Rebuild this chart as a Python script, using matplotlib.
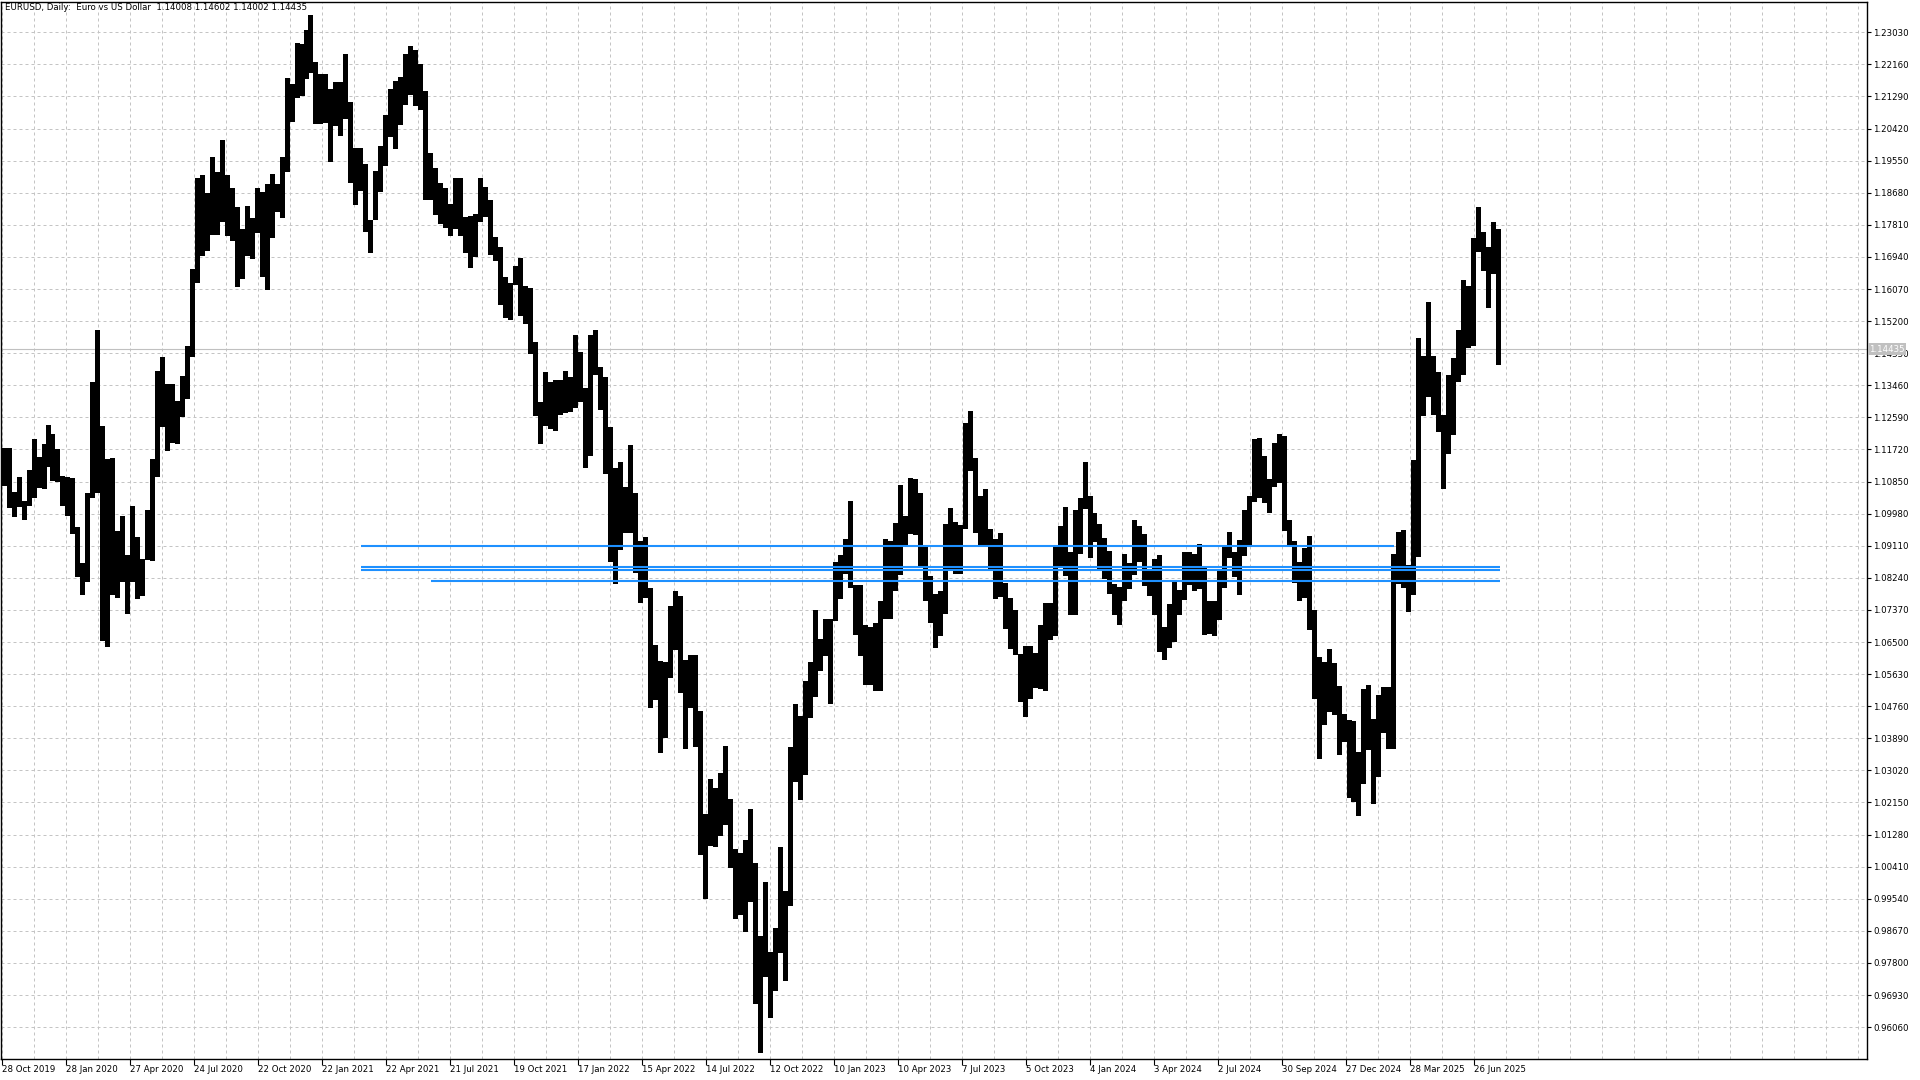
import numpy as np
import pandas as pd
import matplotlib
matplotlib.use("Agg")
import matplotlib.pyplot as plt
import matplotlib.transforms as mtransforms
from matplotlib import font_manager

# ---------------- data ----------------
title = "EURUSD, Daily:  Euro vs US Dollar  1.14008 1.14602 1.14002 1.14435"
first_week = "2019-10-28"
last_week = "2025-07-28"
holidays = ["2019-12-25", "2020-01-01", "2020-12-25", "2021-01-01", "2024-01-01", "2025-01-01"]

high19 = [1.1175, 1.1176, 1.1056, 1.1097, 1.1031, 1.1117, 1.1200, 1.1152, 1.1188, 1.1239]
low19 = [1.1072, 1.1014, 1.0989, 1.1015, 1.0981, 1.1020, 1.1040, 1.1067, 1.1065, 1.1125]

high20 = [1.1214, 1.1173, 1.1100, 1.1096, 1.1095, 1.0963, 1.0864, 1.1053, 1.1355, 1.1496,
          1.1236, 1.1147, 1.1148, 1.0952, 1.0991, 1.0887, 1.1019, 1.0934, 1.0875, 1.1009,
          1.1147, 1.1384, 1.1422, 1.1349, 1.1349, 1.1303, 1.1371, 1.1452, 1.1660, 1.1909,
          1.1916, 1.1866, 1.1966, 1.1923, 1.2011, 1.1917, 1.1882, 1.1830, 1.1770, 1.1831,
          1.1800, 1.1881, 1.1870, 1.1891, 1.1920, 1.1892, 1.1965, 1.2178, 1.2164, 1.2273,
          1.2272, 1.2310]
low20 = [1.1086, 1.1085, 1.1019, 1.0992, 1.0944, 1.0827, 1.0778, 1.0812, 1.1040, 1.1055,
         1.0654, 1.0636, 1.0778, 1.0768, 1.0812, 1.0727, 1.0812, 1.0767, 1.0774, 1.0871,
         1.0870, 1.1097, 1.1232, 1.1168, 1.1190, 1.1186, 1.1260, 1.1308, 1.1422, 1.1624,
         1.1696, 1.1711, 1.1754, 1.1753, 1.1789, 1.1752, 1.1737, 1.1612, 1.1633, 1.1696,
         1.1689, 1.1760, 1.1640, 1.1603, 1.1745, 1.1816, 1.1800, 1.1924, 1.2059, 1.2124,
         1.2130, 1.2177]

high21 = [1.2349, 1.2222, 1.2190, 1.2189, 1.2150, 1.2169, 1.2169, 1.2243, 1.2114, 1.1990,
          1.1990, 1.1945, 1.1795, 1.1927, 1.1994, 1.2080, 1.2150, 1.2172, 1.2181, 1.2245,
          1.2266, 1.2254, 1.2218, 1.2144, 1.1975, 1.1935, 1.1895, 1.1880, 1.1837, 1.1909,
          1.1908, 1.1803, 1.1806, 1.1810, 1.1909, 1.1884, 1.1847, 1.1749, 1.1720, 1.1640,
          1.1624, 1.1669, 1.1692, 1.1616, 1.1609, 1.1464, 1.1300, 1.1383, 1.1355, 1.1361,
          1.1360, 1.1386]
low21 = [1.2193, 1.2054, 1.2053, 1.2057, 1.1952, 1.2049, 1.2023, 1.2067, 1.1894, 1.1836,
         1.1874, 1.1762, 1.1704, 1.1793, 1.1870, 1.1940, 1.2018, 1.1986, 1.2052, 1.2105,
         1.2133, 1.2104, 1.2093, 1.1847, 1.1848, 1.1807, 1.1782, 1.1772, 1.1752, 1.1770,
         1.1752, 1.1705, 1.1664, 1.1695, 1.1790, 1.1802, 1.1700, 1.1684, 1.1563, 1.1529,
         1.1524, 1.1618, 1.1535, 1.1513, 1.1432, 1.1264, 1.1186, 1.1235, 1.1228, 1.1222,
         1.1265, 1.1272]

high22 = [1.1369, 1.1482, 1.1436, 1.1339, 1.1483, 1.1495, 1.1395, 1.1368, 1.1234, 1.1121,
          1.1137, 1.1069, 1.1185, 1.1054, 1.0925, 1.0936, 1.0796, 1.0642, 1.0599, 1.0596,
          1.0748, 1.0787, 1.0774, 1.0601, 1.0614, 1.0615, 1.0463, 1.0185, 1.0278, 1.0254,
          1.0294, 1.0368, 1.0225, 1.0090, 1.0079, 1.0113, 1.0198, 1.0051, 0.9852, 0.9999,
          0.9809, 0.9874, 1.0094, 0.9976, 1.0364, 1.0481, 1.0449, 1.0545, 1.0595, 1.0736,
          1.0658, 1.0713]
low22 = [1.1273, 1.1285, 1.1300, 1.1121, 1.1154, 1.1374, 1.1280, 1.1106, 1.0868, 1.0806,
         1.0900, 1.0945, 1.0945, 1.0837, 1.0757, 1.0770, 1.0471, 1.0493, 1.0350, 1.0389,
         1.0553, 1.0627, 1.0511, 1.0359, 1.0470, 1.0366, 1.0072, 0.9952, 1.0097, 1.0095,
         1.0123, 1.0155, 1.0036, 0.9899, 0.9910, 0.9864, 0.9944, 0.9668, 0.9536, 0.9741,
         0.9632, 0.9705, 0.9807, 0.9730, 0.9935, 1.0271, 1.0223, 1.0290, 1.0443, 1.0500,
         1.0572, 1.0612]

high23 = [1.0713, 1.0867, 1.0887, 1.0929, 1.1033, 1.0804, 1.0804, 1.0695, 1.0691, 1.0701,
          1.0760, 1.0930, 1.0925, 1.0973, 1.1075, 1.0991, 1.1095, 1.1092, 1.1055, 1.0907,
          1.0829, 1.0781, 1.0789, 1.0971, 1.1012, 1.0976, 1.0968, 1.1245, 1.1276, 1.1149,
          1.1045, 1.1064, 1.0956, 1.0930, 1.0945, 1.0809, 1.0769, 1.0737, 1.0618, 1.0639,
          1.0640, 1.0620, 1.0695, 1.0756, 1.0756, 1.0914, 1.0965, 1.1017, 1.0894, 1.1009,
          1.1040, 1.1139]
low23 = [1.0483, 1.0708, 1.0766, 1.0835, 1.0797, 1.0669, 1.0613, 1.0533, 1.0533, 1.0516,
         1.0516, 1.0713, 1.0713, 1.0788, 1.0831, 1.0910, 1.0942, 1.0941, 1.0850, 1.0760,
         1.0702, 1.0635, 1.0667, 1.0727, 1.0844, 1.0834, 1.0834, 1.0956, 1.1114, 1.0945,
         1.0912, 1.0912, 1.0845, 1.0766, 1.0771, 1.0686, 1.0632, 1.0616, 1.0488, 1.0448,
         1.0495, 1.0524, 1.0522, 1.0516, 1.0656, 1.0666, 1.0853, 1.0828, 1.0724, 1.0723,
         1.0888, 1.1011]

high24 = [1.1046, 1.1000, 1.0970, 1.0933, 1.0898, 1.0807, 1.0800, 1.0888, 1.0865, 1.0981,
          1.0964, 1.0942, 1.0843, 1.0876, 1.0885, 1.0690, 1.0753, 1.0812, 1.0791, 1.0895,
          1.0895, 1.0889, 1.0916, 1.0852, 1.0761, 1.0762, 1.0844, 1.0907, 1.0948, 1.0895,
          1.0926, 1.1009, 1.1047, 1.1201, 1.1202, 1.1155, 1.1092, 1.1189, 1.1214, 1.1209,
          1.0982, 1.0925, 1.0868, 1.0905, 1.0937, 1.0737, 1.0610, 1.0597, 1.0630, 1.0594,
          1.0532, 1.0455, 1.0438]
low24 = [1.0877, 1.0920, 1.0844, 1.0821, 1.0779, 1.0722, 1.0695, 1.0761, 1.0795, 1.0833,
         1.0868, 1.0802, 1.0776, 1.0724, 1.0622, 1.0601, 1.0634, 1.0650, 1.0724, 1.0765,
         1.0805, 1.0788, 1.0795, 1.0668, 1.0671, 1.0666, 1.0710, 1.0797, 1.0877, 1.0826,
         1.0777, 1.0882, 1.0910, 1.1030, 1.1040, 1.1026, 1.0999, 1.1069, 1.1082, 1.0952,
         1.0913, 1.0811, 1.0761, 1.0770, 1.0683, 1.0496, 1.0333, 1.0424, 1.0460, 1.0452,
         1.0343, 1.0379, 1.0226]

high25 = [1.0437, 1.0353, 1.0522, 1.0533, 1.0442, 1.0505, 1.0528, 1.0528, 1.0888, 1.0947,
          1.0955, 1.0859, 1.1144, 1.1474, 1.1425, 1.1573, 1.1425, 1.1381, 1.1266, 1.1375,
          1.1420, 1.1495, 1.1631, 1.1615, 1.1745, 1.1830, 1.1762, 1.1720, 1.1789, 1.1771]
low25 = [1.0215, 1.0177, 1.0265, 1.0356, 1.0210, 1.0285, 1.0402, 1.0359, 1.0361, 1.0806,
         1.0797, 1.0732, 1.0778, 1.0881, 1.1264, 1.1315, 1.1265, 1.1220, 1.1065, 1.1161,
         1.1210, 1.1356, 1.1373, 1.1446, 1.1452, 1.1708, 1.1657, 1.1556, 1.1647, 1.1400]

x_labels = ["28 Oct 2019", "28 Jan 2020", "27 Apr 2020", "24 Jul 2020", "22 Oct 2020",
            "22 Jan 2021", "22 Apr 2021", "21 Jul 2021", "19 Oct 2021", "17 Jan 2022",
            "15 Apr 2022", "14 Jul 2022", "12 Oct 2022", "10 Jan 2023", "10 Apr 2023",
            "7 Jul 2023", "5 Oct 2023", "4 Jan 2024", "3 Apr 2024", "2 Jul 2024",
            "30 Sep 2024", "27 Dec 2024", "28 Mar 2025", "26 Jun 2025"]
x_label_dates = ["2019-10-28", "2020-01-28", "2020-04-27", "2020-07-24", "2020-10-22",
                 "2021-01-22", "2021-04-22", "2021-07-21", "2021-10-19", "2022-01-17",
                 "2022-04-15", "2022-07-14", "2022-10-12", "2023-01-10", "2023-04-10",
                 "2023-07-07", "2023-10-05", "2024-01-04", "2024-04-03", "2024-07-02",
                 "2024-09-30", "2024-12-27", "2025-03-28", "2025-06-26"]

y_ticks = [0.96060, 0.96930, 0.97800, 0.98670, 0.99540, 1.00410, 1.01280, 1.02150,
           1.03020, 1.03890, 1.04760, 1.05630, 1.06500, 1.07370, 1.08240, 1.09110,
           1.09980, 1.10850, 1.11720, 1.12590, 1.13460, 1.14330, 1.15200, 1.16070,
           1.16940, 1.17810, 1.18680, 1.19550, 1.20420, 1.21290, 1.22160, 1.23030]

current_price = 1.14435
level_prices = [1.09110, 1.08542, 1.08461, 1.08155]
level_start = ["2021-03-18", "2021-03-18", "2021-03-18", "2021-06-24"]
level_end = ["2025-03-06", "2025-08-01", "2025-08-01", "2025-08-01"]

# ---------------- drawing ----------------
W, H = 1920, 1080
fig = plt.figure(figsize=(19.2, 10.8), dpi=100)
fig.patch.set_facecolor("white")
L, R, T, B = 1, 1867, 2, 1059
ax = fig.add_axes([L / W, (H - B) / H, (R - L) / W, (B - T) / H])
ax.set_facecolor("white")

names = {f.name for f in font_manager.fontManager.ttflist}
if "Liberation Sans Narrow" in names:
    FONT, FS = "Liberation Sans Narrow", 7.6
else:
    FONT, FS = "DejaVu Sans", 6.2
plt.rcParams["font.family"] = [FONT, "DejaVu Sans"]


def bar_index(dates):
    d = np.array(pd.to_datetime(dates).values.astype("datetime64[D]"))
    return np.busday_count(np.datetime64(first_week), d, holidays=holidays)


weeks = pd.date_range(first_week, last_week, freq="W-MON")
highs = np.array(high19 + high20 + high21 + high22 + high23 + high24 + high25)
lows = np.array(low19 + low20 + low21 + low22 + low23 + low24 + low25)
xw = bar_index(weeks) + 2

ax.bar(xw, highs - lows, bottom=lows, width=5.0, color="black", linewidth=0, zorder=3)

# current price line
ax.axhline(current_price, color="#C0C0C0", lw=0.8, zorder=2)

# horizontal levels
ax.hlines(level_prices, bar_index(level_start), bar_index(level_end),
          colors="#1E90FF", lw=1.5, zorder=4)

# axes limits
ax.set_xlim(-1, 1865)
ax.set_ylim(0.95195, 1.23851)

# grid & ticks
xt = bar_index(x_label_dates)
ax.set_xticks(xt)
ax.set_xticklabels(x_labels)
ax.set_xticks(np.arange(32, 1865, 32), minor=True)
ax.set_yticks(y_ticks)
ax.set_yticklabels([f"{v:.5f}" for v in y_ticks])
ax.yaxis.tick_right()

grid_kw = dict(color="#C4C4C4", linestyle=(0, (3, 3)), linewidth=0.72)
ax.grid(True, axis="x", which="both", **grid_kw)
ax.grid(True, axis="y", which="major", **grid_kw)
ax.set_axisbelow(True)

ax.tick_params(axis="x", which="major", direction="out", length=4, width=0.8,
               pad=0.5, labelsize=FS, colors="black")
ax.tick_params(axis="x", which="minor", length=0)
ax.tick_params(axis="y", which="major", direction="out", length=3, width=0.8,
               pad=1.5, labelsize=FS, colors="black")
for lbl in ax.get_xticklabels():
    lbl.set_horizontalalignment("left")

for s in ax.spines.values():
    s.set_color("black")
    s.set_linewidth(1.0)

# title
fig.text(5 / W, 1 - 2.5 / H, title, ha="left", va="top", fontsize=FS, color="black")

# current price label on the axis
trans = mtransforms.blended_transform_factory(ax.transAxes, ax.transData)
ax.text(1.0012, current_price, f"{current_price:.5f}", transform=trans, ha="left",
        va="center", fontsize=FS, color="white", clip_on=False, zorder=10,
        bbox=dict(boxstyle="square,pad=0.18", fc="#C0C0C0", ec="none"))

fig.savefig("out.png", dpi=100, facecolor="white")
